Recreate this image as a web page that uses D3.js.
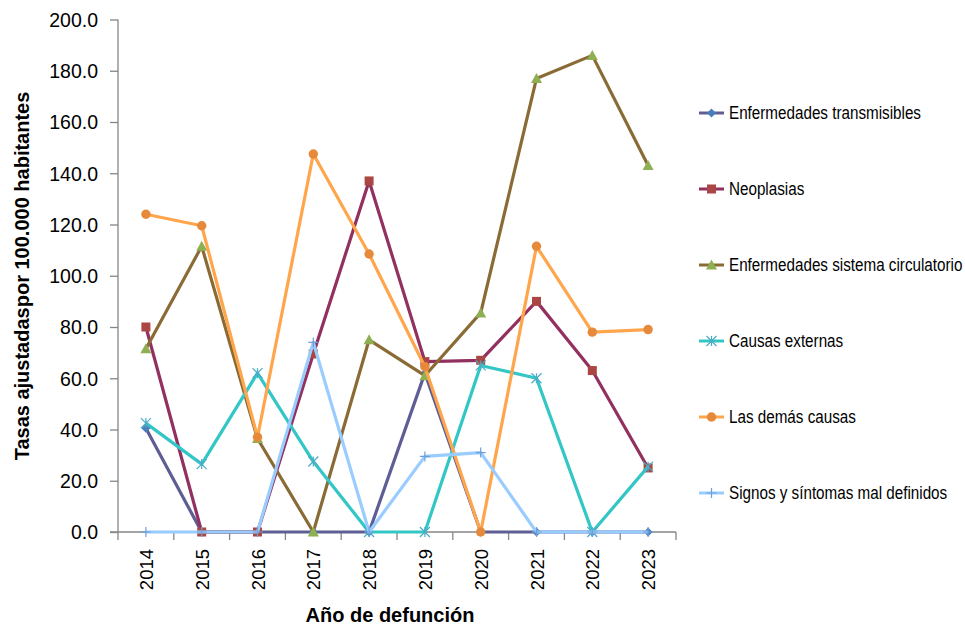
<!DOCTYPE html>
<html>
<head>
<meta charset="utf-8">
<script src="https://cdn.jsdelivr.net/npm/d3@7"></script>
<style>
  html, body { margin: 0; padding: 0; background: #fff; }
  svg { display: block; }
  text { font-family: "Liberation Sans", Arial, sans-serif; fill: #000; }
</style>
</head>
<body>
<svg id="chart" width="965" height="629"></svg>
<script>
const years = ["2014","2015","2016","2017","2018","2019","2020","2021","2022","2023"];
const yTicks = [0,20,40,60,80,100,120,140,160,180,200];

const transmisibles = [40.5, 0, 0, 0, 0, 62, 0, 0, 0, 0];
const neoplasias    = [80, 0, 0, 69.5, 137, 66.5, 67, 90, 63, 25];
const circulatorio  = [71.5, 111.5, 36.5, 0, 75, 61, 85.5, 177, 186, 143];
const externas      = [42.5, 26.5, 62, 27.5, 0, 0, 65, 60, 0, 25.5];
const demas         = [124, 119.5, 37, 147.5, 108.5, 64.5, 0, 111.5, 78, 79];
const signos        = [0, 0, 0, 74, 0, 29.5, 31, 0, 0, 0];

const seriesNames = ["Enfermedades transmisibles","Neoplasias","Enfermedades sistema circulatorio","Causas externas","Las demás causas","Signos y síntomas mal definidos"];
const seriesValues = [transmisibles, neoplasias, circulatorio, externas, demas, signos];
const lineColors = ["#5E5E94","#92305F","#8A6B36","#33C6C6","#FFA64D","#99CCFF"];
const markerColors = ["#4A7EBB","#AA4643","#8FB052","#4BACC6","#E6893A","#6F9FD8"];
const markerTypes = ["diamond","square","triangle","asterisk","circle","plus"];

const svg = d3.select("#chart");
const x = d3.scaleBand().domain(years).range([118, 676]);
const y = d3.scaleLinear().domain([0, 200]).range([532, 19.5]);

// Y axis
const yAxis = d3.axisLeft(y).tickValues(yTicks).tickSize(8).tickPadding(12).tickFormat(d3.format(".1f"));
const gy = svg.append("g").attr("transform", "translate(118,0)").call(yAxis);
gy.select(".domain").attr("stroke", "#868686").attr("stroke-width", 1.3).attr("d", "M0,19.5V532");
gy.selectAll(".tick line").attr("stroke", "#868686").attr("stroke-width", 1.3);
gy.selectAll(".tick text").style("font-size", "19.5px").attr("dy", "0.35em");

// X axis
const gx = svg.append("g").attr("transform", "translate(0,532)");
gx.append("line").attr("x1", 110).attr("x2", 676).attr("y1", 0).attr("y2", 0)
  .attr("stroke", "#868686").attr("stroke-width", 1.3);
const bounds = years.map(d => x(d)).concat([x.range()[1]]);
gx.selectAll("line.tk").data(bounds).enter().append("line").attr("class","tk")
  .attr("x1", d => d).attr("x2", d => d).attr("y1", 0).attr("y2", 8)
  .attr("stroke", "#868686").attr("stroke-width", 1.3);
gx.selectAll("text.yr").data(years).enter().append("text").attr("class","yr")
  .attr("transform", d => `translate(${x(d) + x.bandwidth()/2 + 7},17) rotate(-90)`)
  .attr("text-anchor", "end")
  .style("font-size", "18.5px")
  .text(d => d);

// Axis titles
svg.append("text")
  .attr("transform", "translate(29,276) rotate(-90)")
  .attr("text-anchor", "middle")
  .style("font-size", "20px").style("font-weight", "bold")
  .text("Tasas ajustadaspor 100.000 habitantes");
svg.append("text")
  .attr("x", 390).attr("y", 622)
  .attr("text-anchor", "middle")
  .style("font-size", "20px").style("font-weight", "bold")
  .text("Año de defunción");

function drawMarker(g, type, cx, cy, color) {
  if (type === "diamond") {
    g.append("path").attr("d", `M${cx},${cy-4.5}L${cx+4.5},${cy}L${cx},${cy+4.5}L${cx-4.5},${cy}Z`).attr("fill", color);
  } else if (type === "square") {
    g.append("rect").attr("x", cx-4.5).attr("y", cy-4.5).attr("width", 9).attr("height", 9).attr("fill", color);
  } else if (type === "triangle") {
    g.append("path").attr("d", `M${cx},${cy-5.5}L${cx+5.5},${cy+4.5}L${cx-5.5},${cy+4.5}Z`).attr("fill", color);
  } else if (type === "circle") {
    g.append("circle").attr("cx", cx).attr("cy", cy).attr("r", 4.7).attr("fill", color);
  } else if (type === "asterisk") {
    const r = 5;
    g.append("path").attr("d", `M${cx-r},${cy-r}L${cx+r},${cy+r}M${cx-r},${cy+r}L${cx+r},${cy-r}M${cx},${cy-r}L${cx},${cy+r}`)
      .attr("stroke", color).attr("stroke-width", 1.2).attr("fill", "none");
  } else if (type === "plus") {
    const r = 5;
    g.append("path").attr("d", `M${cx-r},${cy}L${cx+r},${cy}M${cx},${cy-r}L${cx},${cy+r}`)
      .attr("stroke", color).attr("stroke-width", 1.2).attr("fill", "none");
  }
}

const line = d3.line().x((d, i) => x(years[i]) + x.bandwidth()/2).y(d => y(d));

seriesValues.forEach((vals, s) => {
  const g = svg.append("g");
  g.append("path").datum(vals).attr("d", line)
    .attr("fill", "none").attr("stroke", lineColors[s]).attr("stroke-width", 3.2)
    .attr("stroke-linejoin", "round");
  vals.forEach((v, i) => drawMarker(g, markerTypes[s], x(years[i]) + x.bandwidth()/2, y(v), markerColors[s]));
});

// Legend
const legY = [113, 189, 265, 341, 417, 493];
seriesNames.forEach((name, s) => {
  const g = svg.append("g").attr("transform", `translate(0,${legY[s]})`);
  g.append("line").attr("x1", 699).attr("x2", 724).attr("y1", 0).attr("y2", 0)
    .attr("stroke", lineColors[s]).attr("stroke-width", 3);
  drawMarker(g, markerTypes[s], 711.5, 0, markerColors[s]);
  g.append("text").attr("transform", "translate(729,0) scale(0.87,1)")
    .attr("dy", "0.35em")
    .style("font-size", "17.5px")
    .text(name);
});
</script>
</body>
</html>
